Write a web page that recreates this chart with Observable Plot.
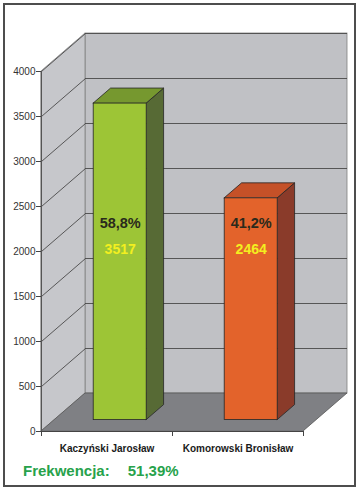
<!DOCTYPE html>
<html><head><meta charset="utf-8">
<script src="https://cdn.jsdelivr.net/npm/d3@7"></script>
<script src="https://cdn.jsdelivr.net/npm/@observablehq/plot@0.6"></script>
<style>
body{margin:0;background:#fff;font-family:"Liberation Sans",Arial,sans-serif;}
#wrap{position:relative;width:360px;height:490px;overflow:hidden;}
#chart{position:absolute;left:0;top:0;}
#frame{position:absolute;left:3px;top:3px;width:349px;height:480px;border:2px solid #4d4d4d;pointer-events:none;}
#caption{position:absolute;left:23px;top:463px;font-size:15px;line-height:15px;font-weight:bold;color:#27a24b;white-space:pre;}
#caption span.v{margin-left:18px;}
</style></head><body>
<div id="wrap"><div id="chart"></div><div id="caption"></div><div id="frame"></div></div>
<script>
// ---- data ----
const categories = ["Kaczyński Jarosław", "Komorowski Bronisław"];
const votes = [3517, 2464];
const shares = ["58,8%", "41,2%"];
const yTicks = [0, 500, 1000, 1500, 2000, 2500, 3000, 3500, 4000];
const turnoutLabel = "Frekwencja:";
const turnoutValue = "51,39%";

// ---- colours ----
const frontColors = ["#9dc536", "#e3632b"];
const topColors = ["#76982f", "#c55128"];
const sideColors = ["#576a35", "#8a3b2a"];

// ---- layout ----
const W = 360, H = 458;
const mL = 41, mR = 57, mT = 71, mB = 27;
const xMax = categories.length, yMax = 4000;
const pxX = (W - mL - mR) / xMax;          // px per x unit
const pxY = (H - mT - mB) / yMax;          // px per y unit
const depthPxX = 44, depthPxY = 38;        // oblique depth of the box
const DX = depthPxX / pxX, DY = depthPxY / pxY;
const f0 = 0.3, f1 = 0.695;                // bar depth span (fraction)
const hw = 26.5 / pxX;                     // half bar width

const bars = categories.map((c, i) => ({cat: c, v: votes[i], share: shares[i], cx: i + 0.5,
  front: frontColors[i], top: topColors[i], side: sideColors[i]}));

const topPts = bars.flatMap(b => [
  {cat: b.cat, fill: b.top, y: b.v + f0 * DY, x1: b.cx - hw + f0 * DX, x2: b.cx + hw + f0 * DX},
  {cat: b.cat, fill: b.top, y: b.v + f1 * DY, x1: b.cx - hw + f1 * DX, x2: b.cx + hw + f1 * DX}
]);
const sidePts = bars.flatMap(b => [
  {cat: b.cat, fill: b.side, x: b.cx + hw + f0 * DX, y1: f0 * DY, y2: b.v + f0 * DY},
  {cat: b.cat, fill: b.side, x: b.cx + hw + f1 * DX, y1: f1 * DY, y2: b.v + f1 * DY}
]);
const gridTicks = yTicks.filter(t => t > 0);
const shareY = 2310, voteY = 2020;

const plot = Plot.plot({
  width: W, height: H,
  marginLeft: mL, marginRight: mR, marginTop: mT, marginBottom: mB,
  x: {type: "linear", domain: [0, xMax]},
  y: {type: "linear", domain: [0, yMax]},
  style: {fontFamily: "'Liberation Sans', Arial, sans-serif", overflow: "visible", background: "transparent"},
  marks: [
    // back wall
    Plot.rect([0], {x1: DX, x2: xMax + DX, y1: DY, y2: yMax + DY, fill: "#c0c1c5", stroke: "#808080", strokeWidth: 0.8}),
    // left side wall
    Plot.areaY([{x: 0, y1: 0, y2: yMax}, {x: DX, y1: DY, y2: yMax + DY}], {x: "x", y1: "y1", y2: "y2", fill: "#c6c7cb", stroke: "#808080", strokeWidth: 0.8}),
    // gridlines on back wall
    Plot.ruleY(gridTicks, {y: d => d + DY, x1: DX, x2: xMax + DX, stroke: "#4a4a4a", strokeWidth: 0.9, strokeOpacity: 1}),
    // gridlines on side wall
    Plot.link(gridTicks, {x1: 0, y1: d => d, x2: DX, y2: d => d + DY, stroke: "#4a4a4a", strokeWidth: 0.9}),
    // floor
    Plot.areaX([{y: 0, x1: 0, x2: xMax}, {y: DY, x1: DX, x2: xMax + DX}], {y: "y", x1: "x1", x2: "x2", fill: "#7f8084", stroke: "#555", strokeWidth: 0.8}),
    // bars: side, top, front
    Plot.areaY(sidePts, {x: "x", y1: "y1", y2: "y2", z: "cat", fill: "fill", stroke: "#262626", strokeWidth: 0.8}),
    Plot.areaX(topPts, {y: "y", x1: "x1", x2: "x2", z: "cat", fill: "fill", stroke: "#262626", strokeWidth: 0.8}),
    Plot.rect(bars, {x1: d => d.cx - hw + f0 * DX, x2: d => d.cx + hw + f0 * DX, y1: f0 * DY, y2: d => d.v + f0 * DY, fill: "front", stroke: "#262626", strokeWidth: 0.8}),
    // value labels
    Plot.text(bars, {x: d => d.cx + f0 * DX, y: shareY, text: "share", fontSize: 14.5, fontWeight: "bold", fill: "#2a2a1c"}),
    Plot.text(bars, {x: d => d.cx + f0 * DX, y: voteY, text: d => String(d.v), fontSize: 14, fontWeight: "bold", fill: "#f3ef1f"}),
    // axes
    Plot.ruleX([0], {y1: 0, y2: yMax, stroke: "#555"}),
    Plot.ruleY([0], {x1: 0, x2: xMax, stroke: "#444"}),
    Plot.axisY({ticks: yTicks, tickSize: 5, tickPadding: 1, tickFormat: d => String(d), fontSize: 10, label: null, stroke: "#444", fill: "#333"}),
    Plot.axisX({ticks: [0, 1, 2], tickSize: 5, tickFormat: () => "", label: null, stroke: "#444"}),
    Plot.axisX({ticks: bars.map(b => b.cx), tickSize: 0, tickPadding: 13, tickFormat: (d, i) => categories[i], fontSize: 10, fontWeight: "bold", fill: "#1a1a1a", label: null})
  ]
});
document.getElementById("chart").appendChild(plot);
document.getElementById("caption").innerHTML = `${turnoutLabel}<span class="v">${turnoutValue}</span>`;
</script>
</body></html>
